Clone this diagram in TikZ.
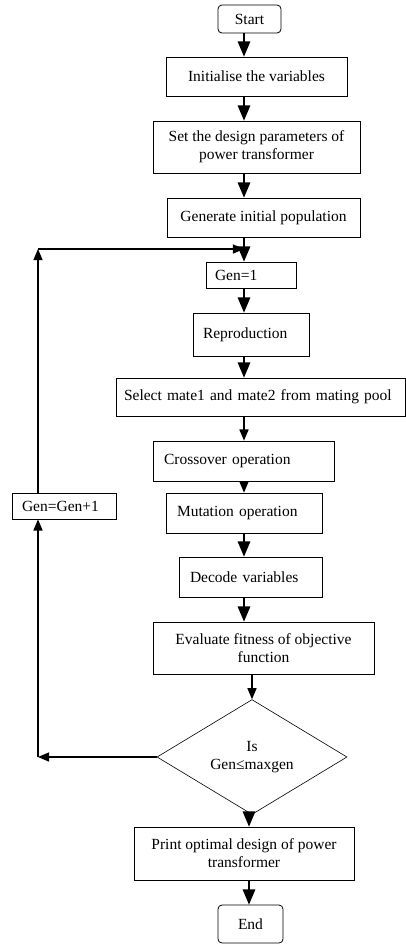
\documentclass[tikz,border=0pt]{standalone}
\usepackage{fontspec}
\setmainfont{Liberation Serif}
\usetikzlibrary{arrows,shapes}

\begin{document}
\begin{tikzpicture}[x=1pt,y=-1pt,font=\fontsize{15.5}{18}\selectfont]
        \tikzstyle{block}=[rectangle, draw=black, line width=0.8pt, inner sep=0pt, align=center]
        \tikzstyle{leftblock}=[block, align=left]
        \tikzstyle{term}=[block, rounded corners=4pt]
        \tikzstyle{decision}=[diamond, draw=black, line width=0.6pt, inner sep=0pt, align=center]
        \tikzstyle{flow}=[-triangle 45, line width=2.6pt]
        \tikzstyle{back}=[-triangle 45, line width=1.6pt]
        \useasboundingbox (0,0) rectangle (406,946);
        \coordinate (spine) at (244,0);
        \coordinate (spinelow) at (249,0);
        \coordinate (loop) at (38,249);
        % main column
        \node [term, minimum width=63pt, minimum height=28pt] (start) at (249.5,19) {Start};
        \node [block, minimum width=181pt, minimum height=39pt] (init) at (256.5,76.5) {Initialise the variables};
        \node [block, minimum width=207pt, minimum height=52pt] (design) at (256.5,147) {Set the design parameters of\\power transformer};
        \node [block, minimum width=193pt, minimum height=39pt] (gener) at (263.5,217.5) {Generate initial population};
        \node [leftblock, minimum width=90pt, minimum height=26pt, text width=72pt] (gen1) at (251,275) {Gen=1};
        \node [leftblock, minimum width=116pt, minimum height=43pt, text width=96pt] (repro) at (251,334.5) {Reproduction};
        \node [leftblock, minimum width=289pt, minimum height=38pt, text width=273pt] (select) at (260.5,397) {Select mate1 and mate2 from mating pool};
        \node [leftblock, minimum width=181pt, minimum height=40pt, text width=159pt] (cross) at (243.5,461) {Crossover operation};
        \node [leftblock, minimum width=156pt, minimum height=40pt, text width=134pt] (mutat) at (244,513) {Mutation operation};
        \node [leftblock, minimum width=143pt, minimum height=40pt, text width=121pt] (decode) at (250.5,577) {Decode variables};
        \node [block, minimum width=221pt, minimum height=52pt] (evalu) at (263.5,648) {Evaluate fitness of objective\\function};
        \node [decision, minimum width=190pt, minimum height=90pt] (decide) at (252,757) {Is\\Gen≤maxgen};
        \node [block, minimum width=220pt, minimum height=53pt] (print) at (244,853.5) {Print optimal design of power\\transformer};
        \node [term, minimum width=65pt, minimum height=38pt] (stop) at (250.5,924) {End};
        % loop box
        \node [leftblock, minimum width=104pt, minimum height=26pt, text width=84pt] (incr) at (64,506) {Gen=Gen+1};
        % arrows down the column
        \draw[flow] (start.south -| spine) -- (init.north -| spine);
        \draw[flow] (init.south -| spine) -- (design.north -| spine);
        \draw[flow] (design.south -| spine) -- (gener.north -| spine);
        \draw[flow] (gener.south -| spine) -- (gen1.north -| spine);
        \draw[flow] (gen1.south -| spine) -- (repro.north -| spine);
        \draw[flow] (repro.south -| spine) -- (select.north -| spine);
        \draw[back] (select.south -| spine) -- (cross.north -| spine);
        \draw[back] (cross.south -| spine) -- (mutat.north -| spine);
        \draw[flow] (mutat.south -| spine) -- (decode.north -| spine);
        \draw[flow] (decode.south -| spine) -- (evalu.north -| spine);
        \draw[back] (evalu.south -| decide.north) -- (decide.north);
        \draw[flow] (decide.south -| spinelow) -- (print.north -| spinelow);
        \draw[flow] (print.south -| spinelow) -- (stop.north -| spinelow);
        % loop back
        \draw[back] (decide.west) -- (loop |- decide.west);
        \draw[back] (loop |- decide.west) -- (incr.south -| loop);
        \draw[back] (incr.north -| loop) -- (loop);
        \draw[back] (loop) -- (spine |- loop);
\end{tikzpicture}
\end{document}
